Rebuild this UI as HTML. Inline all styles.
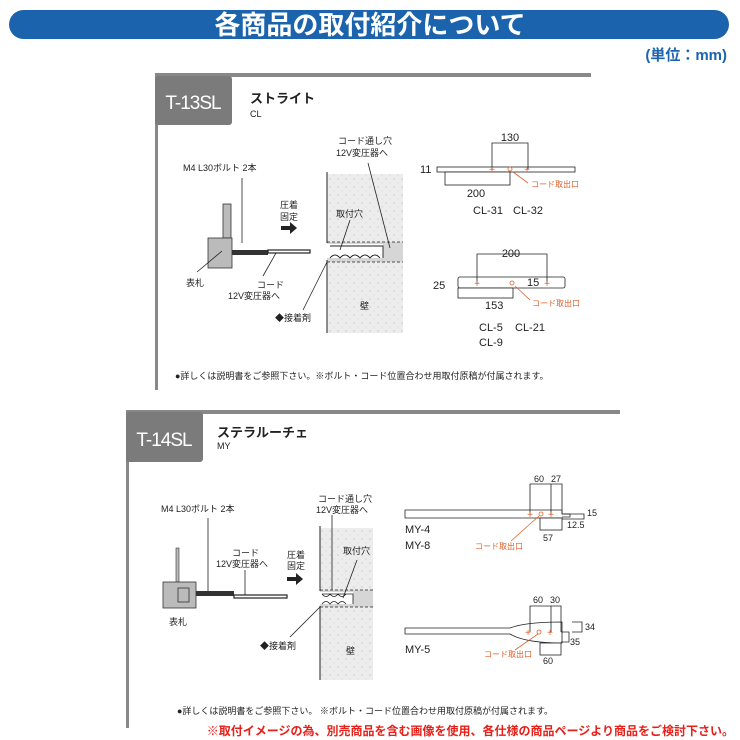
<!DOCTYPE html>
<html><head><meta charset="utf-8"><style>
html,body{margin:0;padding:0;background:#fff;}
svg{display:block;}
text{font-family:"Liberation Sans","Noto Sans CJK JP",sans-serif;fill:#222;}
.s{font-size:9px;}
.m{font-size:11px;}
.o{font-size:8px;fill:#e0602a;}
.p{font-size:10px;fill:#e0602a;}
</style></head><body>
<svg width="740" height="740" viewBox="0 0 740 740" xmlns="http://www.w3.org/2000/svg">
<defs>
<pattern id="dots" width="8" height="8" patternUnits="userSpaceOnUse">
<rect width="8" height="8" fill="#ececec"/><circle cx="2" cy="3" r="0.6" fill="#bbb"/><circle cx="6" cy="7" r="0.5" fill="#c8c8c8"/>
</pattern>
</defs>
<rect x="9" y="10" width="720" height="29" rx="14.5" fill="#1b64ad"/>
<text x="370" y="34" text-anchor="middle" style="font-size:26px;font-weight:bold;fill:#fff">各商品の取付紹介について</text>
<text x="727" y="60" text-anchor="end" style="font-size:15px;font-weight:bold;fill:#1b64ad">(単位：mm)</text>

<rect x="155" y="73" width="436" height="4" fill="#888"/>
<rect x="155" y="73" width="3" height="317" fill="#888"/>
<rect x="155" y="76" width="77" height="49" rx="3" fill="#7b7b7b"/>
<text x="193" y="109" text-anchor="middle" style="font-size:19px;letter-spacing:-1px;fill:#fff">T-13SL</text>
<text x="250" y="103" style="font-size:13px;font-weight:bold">ストライト</text>
<text x="250" y="117" class="s">CL</text>

<rect x="223" y="204" width="8" height="34" fill="#bbb" stroke="#333" stroke-width="0.8"/>
<rect x="208" y="238" width="24" height="30" fill="#bbb" stroke="#333" stroke-width="0.8"/>
<rect x="232" y="250" width="36" height="5" fill="#333"/>
<rect x="268" y="250" width="42" height="3" fill="#fff" stroke="#222" stroke-width="1.2"/>
<text x="183" y="171" class="s">M4 L30ボルト 2本</text>
<line x1="242" y1="178" x2="242" y2="243" stroke="#222" stroke-width="0.8"/>
<text x="186" y="286" class="s">表札</text>
<line x1="197" y1="272" x2="222" y2="251" stroke="#222" stroke-width="0.8"/>
<text x="257" y="288" class="s">コード</text>
<text x="228" y="299" class="s">12V変圧器へ</text>
<line x1="263" y1="276" x2="276" y2="253" stroke="#222" stroke-width="0.8"/>
<text x="280" y="208" class="s">圧着</text>
<text x="280" y="220" class="s">固定</text>
<path d="M281 226h9v-4l7 6-7 6v-4h-9z" fill="#222"/>
<text x="275" y="321" class="s">◆接着剤</text>
<line x1="303" y1="310" x2="328" y2="260" stroke="#222" stroke-width="0.8"/>

<rect x="327" y="174" width="76" height="159" fill="url(#dots)"/>
<rect x="327" y="242" width="76" height="20" fill="#d6d6d6"/>
<rect x="327" y="244" width="56" height="14" fill="#fff"/>
<path d="M330 258q5-6 10 0q5-6 10 0q5-6 10 0q5-6 10 0q5-6 10 0 M330 246h53v12" fill="none" stroke="#222" stroke-width="0.9"/>
<line x1="327" y1="172" x2="327" y2="243" stroke="#222"/>
<line x1="327" y1="260" x2="327" y2="333" stroke="#222"/>
<line x1="327" y1="242" x2="403" y2="242" stroke="#222" stroke-dasharray="3,2" stroke-width="0.8"/>
<line x1="327" y1="262" x2="403" y2="262" stroke="#222" stroke-dasharray="3,2" stroke-width="0.8"/>
<text x="336" y="217" class="s">取付穴</text>
<line x1="350" y1="220" x2="340" y2="250" stroke="#222" stroke-width="0.8"/>
<text x="338" y="144" class="s">コード通し穴</text>
<text x="336" y="156" class="s">12V変圧器へ</text>
<line x1="368" y1="163" x2="390" y2="248" stroke="#222" stroke-width="0.8"/>
<text x="360" y="309" class="s">壁</text>

<rect x="437" y="167" width="138" height="5" fill="#fff" stroke="#222" stroke-width="0.8"/>
<rect x="445" y="172" width="65" height="13" fill="#fff" stroke="#222" stroke-width="0.8"/>
<path d="M492 169v-26h36v26" fill="none" stroke="#222" stroke-width="0.8"/>
<text x="510" y="141" text-anchor="middle" class="m">130</text>
<text x="420" y="173" class="m">11</text>
<text x="476" y="197" text-anchor="middle" class="m">200</text>
<text x="473" y="214" class="m">CL-31</text><text x="513" y="214" class="m">CL-32</text>
<text x="492" y="173" text-anchor="middle" class="p">+</text>
<text x="527" y="173" text-anchor="middle" class="p">+</text>
<circle cx="510" cy="169" r="2" fill="none" stroke="#e0602a" stroke-width="0.8"/>
<line x1="513" y1="172" x2="528" y2="183" stroke="#e0602a" stroke-width="0.8"/>
<text x="531" y="187" class="o">コード取出口</text>

<rect x="458" y="277" width="107" height="11" rx="2" fill="#fff" stroke="#222" stroke-width="0.8"/>
<rect x="458" y="288" width="55" height="10" fill="#fff" stroke="#222" stroke-width="0.8"/>
<path d="M477 283v-29h70v29" fill="none" stroke="#222" stroke-width="0.8"/>
<text x="511" y="257" text-anchor="middle" class="m">200</text>
<text x="433" y="289" class="m">25</text>
<text x="527" y="286" class="m">15</text>
<text x="485" y="309" class="m">153</text>
<text x="479" y="331" class="m">CL-5</text><text x="515" y="331" class="m">CL-21</text>
<text x="479" y="346" class="m">CL-9</text>
<text x="477" y="287" text-anchor="middle" class="p">+</text>
<text x="547" y="287" text-anchor="middle" class="p">+</text>
<circle cx="512" cy="283" r="2" fill="none" stroke="#e0602a" stroke-width="0.8"/>
<line x1="515" y1="286" x2="530" y2="300" stroke="#e0602a" stroke-width="0.8"/>
<text x="532" y="306" class="o">コード取出口</text>
<text x="175" y="379" style="font-size:9px">●詳しくは説明書をご参照下さい。※ボルト・コード位置合わせ用取付原稿が付属されます。</text>

<rect x="126" y="410" width="494" height="4" fill="#888"/>
<rect x="126" y="410" width="3" height="318" fill="#888"/>
<rect x="126" y="412" width="77" height="50" rx="3" fill="#7b7b7b"/>
<text x="164" y="446" text-anchor="middle" style="font-size:19px;letter-spacing:-1px;fill:#fff">T-14SL</text>
<text x="217" y="437" style="font-size:13px;font-weight:bold">ステラルーチェ</text>
<text x="217" y="449" class="s">MY</text>

<rect x="176" y="548" width="3" height="52" fill="#bbb" stroke="#333" stroke-width="0.6"/>
<rect x="163" y="582" width="33" height="26" fill="#bbb" stroke="#333" stroke-width="0.8"/>
<rect x="178" y="588" width="11" height="14" fill="#bbb" stroke="#333" stroke-width="0.8"/>
<rect x="196" y="591" width="38" height="5" fill="#333"/>
<rect x="234" y="595" width="53" height="3" fill="#fff" stroke="#222" stroke-width="1.2"/>
<text x="161" y="512" class="s">M4 L30ボルト 2本</text>
<line x1="208" y1="518" x2="208" y2="591" stroke="#222" stroke-width="0.8"/>
<text x="232" y="556" class="s">コード</text>
<text x="216" y="567" class="s">12V変圧器へ</text>
<line x1="245" y1="570" x2="245" y2="595" stroke="#222" stroke-width="0.8"/>
<text x="169" y="625" class="s">表札</text>
<text x="287" y="558" class="s">圧着</text>
<text x="287" y="569" class="s">固定</text>
<path d="M287 577h9v-4l7 6-7 6v-4h-9z" fill="#222"/>
<text x="260" y="649" class="s">◆接着剤</text>
<line x1="290" y1="637" x2="322" y2="605" stroke="#222" stroke-width="0.8"/>

<rect x="320" y="528" width="53" height="152" fill="url(#dots)"/>
<rect x="320" y="590" width="53" height="17" fill="#d6d6d6"/>
<rect x="320" y="592" width="33" height="12" fill="#fff"/>
<path d="M322 604q4-5 8 0q4-5 8 0q4-5 8 0 M322 594q4 5 8 0q4 5 8 0q4 5 8 0 M322 594h31v10" fill="none" stroke="#222" stroke-width="0.8"/>
<line x1="320" y1="526" x2="320" y2="591" stroke="#222"/>
<line x1="320" y1="606" x2="320" y2="680" stroke="#222"/>
<line x1="320" y1="590" x2="373" y2="590" stroke="#222" stroke-dasharray="3,2" stroke-width="0.8"/>
<line x1="320" y1="607" x2="373" y2="607" stroke="#222" stroke-dasharray="3,2" stroke-width="0.8"/>
<text x="343" y="554" class="s">取付穴</text>
<line x1="357" y1="560" x2="343" y2="598" stroke="#222" stroke-width="0.8"/>
<text x="318" y="502" class="s">コード通し穴</text>
<text x="316" y="513" class="s">12V変圧器へ</text>
<line x1="332" y1="515" x2="332" y2="590" stroke="#222" stroke-width="0.8"/>
<text x="346" y="654" class="s">壁</text>

<path d="M405 510h157v4h22v5h-22v-1h-157z" fill="#fff" stroke="#222" stroke-width="0.8"/>
<rect x="540" y="518" width="22" height="12" fill="#fff" stroke="#222" stroke-width="0.8"/>
<path d="M530 514v-30h32v30 M551 484v30" fill="none" stroke="#222" stroke-width="0.8"/>
<path d="M562 514h8v3h-8" fill="none" stroke="#222" stroke-width="0.8"/>
<text x="534" y="482" class="s">60</text><text x="551" y="482" class="s">27</text>
<text x="587" y="516" class="s">15</text>
<text x="567" y="528" class="s">12.5</text>
<text x="543" y="541" class="s">57</text>
<text x="405" y="533" class="m">MY-4</text>
<text x="405" y="549" class="m">MY-8</text>
<text x="530" y="518" text-anchor="middle" class="p">+</text>
<text x="551" y="518" text-anchor="middle" class="p">+</text>
<circle cx="541" cy="514" r="2" fill="none" stroke="#e0602a" stroke-width="0.8"/>
<line x1="539" y1="516" x2="511" y2="541" stroke="#e0602a" stroke-width="0.8"/>
<text x="475" y="549" class="o">コード取出口</text>

<path d="M405 628h105q15 -6 52 -6v21q-37 0 -52 -9h-105z" fill="#fff" stroke="#222" stroke-width="0.8"/>
<rect x="540" y="643" width="21" height="12" fill="#fff" stroke="#222" stroke-width="0.8"/>
<path d="M530 632v-26h31v26 M551 606v26" fill="none" stroke="#222" stroke-width="0.8"/>
<path d="M572 622h10v10h-10 M561 632h8v10h-8" fill="none" stroke="#222" stroke-width="0.8"/>
<text x="533" y="603" class="s">60</text><text x="550" y="603" class="s">30</text>
<text x="585" y="630" class="s">34</text>
<text x="570" y="645" class="s">35</text>
<text x="543" y="664" class="s">60</text>
<text x="405" y="653" class="m">MY-5</text>
<text x="528" y="636" text-anchor="middle" class="p">+</text>
<text x="550" y="636" text-anchor="middle" class="p">+</text>
<circle cx="539" cy="632" r="2" fill="none" stroke="#e0602a" stroke-width="0.8"/>
<line x1="538" y1="634" x2="515" y2="650" stroke="#e0602a" stroke-width="0.8"/>
<text x="484" y="657" class="o">コード取出口</text>
<text x="177" y="714" style="font-size:9px">●詳しくは説明書をご参照下さい。 ※ボルト・コード位置合わせ用取付原稿が付属されます。</text>
<text x="734" y="735" text-anchor="end" style="font-size:12px;font-weight:bold;fill:#e8201a">※取付イメージの為、別売商品を含む画像を使用、各仕様の商品ページより商品をご検討下さい。</text>
</svg>
</body></html>
